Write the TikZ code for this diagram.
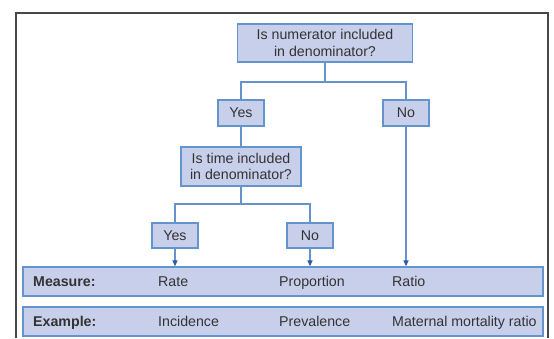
\documentclass[tikz,border=0pt]{standalone}
\usepackage{fontspec}
\setmainfont{Liberation Sans}
\usetikzlibrary{arrows.meta,positioning,calc}
\definecolor{TreeFill}{HTML}{C8CFEA}
\definecolor{TreeLine}{HTML}{6394CC}
\definecolor{TreeTip}{HTML}{2C5CA8}
\definecolor{TreeText}{HTML}{333333}
\definecolor{TreeFrame}{HTML}{474747}

\begin{document}
\begin{tikzpicture}[x=1pt,y=-1pt]
    \tikzset{q/.style={draw=TreeLine,fill=TreeFill,line width=1.3pt,inner sep=0pt,align=center,
      text=TreeText,font=\fontsize{14.2}{16.6}\selectfont},
      ans/.style={q,minimum width=46pt,minimum height=26pt},
      bar/.style={draw=TreeLine,fill=TreeFill,line width=1.3pt,minimum width=520pt,minimum height=29pt,inner sep=0pt},
      lbl/.style={anchor=base west,inner sep=0pt,text=TreeText,font=\fontsize{14.2}{16.6}\selectfont},
      ln/.style={draw=TreeLine,line width=1.2pt},
      arr/.style={ln,-{Triangle[width=5pt,length=6pt,color=TreeTip]}}}
    \useasboundingbox (0,0) rectangle (554,338);
    % outer frame, open at the bottom
    \draw[TreeFrame,line width=2pt] (15.5,338) -- (15.5,12.5) -- (547.5,12.5) -- (547.5,338);
    % decision boxes
    \node[q,minimum width=175pt,minimum height=38pt] (q1) at (325,43) {Is numerator included\\in denominator?};
    \node[ans] (y1) at (241,113) {Yes};
    \node[ans] (n1) at (406,113) {No};
    \node[q,minimum width=120pt,minimum height=39pt] (q2) at (241,166.5) {Is time included\\in denominator?};
    \node[ans,minimum height=25pt] (y2) at (175,235.5) {Yes};
    \node[ans,minimum height=25pt] (n2) at (310,235.5) {No};
    % result bars
    \node[bar] (measure) at (283,281.5) {};
    \node[bar] (example) at (283,321.5) {};
    \node[lbl] (mlab) at (33,286.6) {\textbf{Measure:}};
    \node[lbl] (mrate) at (158,286.6) {Rate};
    \node[lbl] (mprop) at (279,286.6) {Proportion};
    \node[lbl] (mratio) at (392,286.6) {Ratio};
    \node[lbl] (elab) at (33,326.6) {\textbf{Example:}};
    \node[lbl] (einc) at (158,326.6) {Incidence};
    \node[lbl] (eprev) at (279,326.6) {Prevalence};
    \node[lbl] (emmr) at (392,326.6) {Maternal mortality ratio};
    % connectors
    \coordinate (s1) at (325,82);
    \coordinate (s2) at (241,204);
    \draw[ln] (q1.south) -- (s1);
    \draw[ln] (y1.north) |- (s1) -| (n1.north);
    \draw[ln] (y1.south) -- (q2.north);
    \draw[ln] (q2.south) -- (s2);
    \draw[ln] (y2.north) |- (s2) -| (n2.north);
    \draw[arr] (y2.south) -- (y2.south |- measure.north);
    \draw[arr] (n2.south) -- (n2.south |- measure.north);
    \draw[arr] (n1.south) -- (n1.south |- measure.north);
  \end{tikzpicture}
\end{document}
